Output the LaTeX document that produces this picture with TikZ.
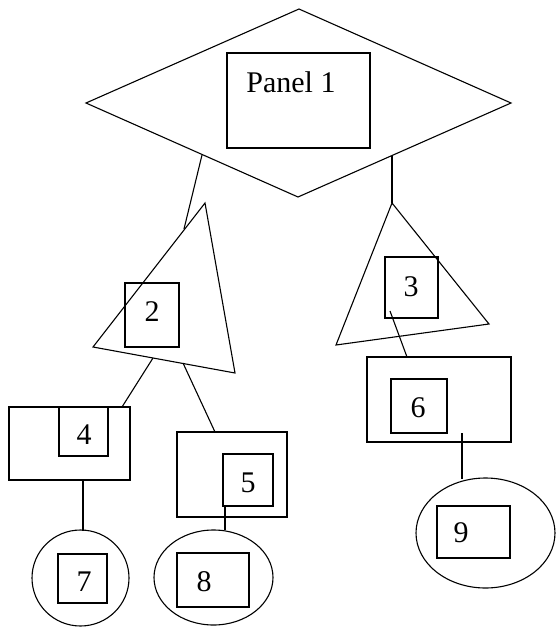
\documentclass[tikz,border=0pt]{standalone}
\usepackage{fontspec}
\setmainfont{Liberation Serif}
\usetikzlibrary{shapes.geometric}
\tikzset{
  shp/.style={draw=black, line width=1.1pt},
  boxnode/.style={shp, rectangle, inner sep=0pt, outer sep=0pt},
  ovalnode/.style={shp, ellipse, inner sep=0pt, outer sep=0pt},
  lbl/.style={inner sep=0pt, font=\fontsize{30}{36}\selectfont},
  conn/.style={draw=black, line width=1.1pt}
}
\begin{document}
\begin{tikzpicture}[x=1pt,y=-1pt]
\useasboundingbox (0,0) rectangle (556,627);
% diamond
\coordinate (dT) at (299,9);
\coordinate (dR) at (511,103);
\coordinate (dB) at (298,197);
\coordinate (dL) at (86,103);
\draw[shp] (dT) -- (dR) -- (dB) -- (dL) -- cycle;
% triangles
\coordinate (t2A) at (205,203);
\coordinate (t2R) at (235,373);
\coordinate (t2L) at (93,347);
\draw[shp] (t2A) -- (t2R) -- (t2L) -- cycle;
\coordinate (t3A) at (392,203);
\coordinate (t3R) at (489,324);
\coordinate (t3L) at (336,345);
\draw[shp] (t3A) -- (t3R) -- (t3L) -- cycle;
% rectangles
\node[boxnode, minimum width=143pt, minimum height=95pt] (panel) at (298.5,100.5) {};
\node[boxnode, minimum width=54pt, minimum height=64pt] (b2) at (152,315) {};
\node[boxnode, minimum width=53pt, minimum height=61pt] (b3) at (411.5,287.5) {};
\node[boxnode, minimum width=121pt, minimum height=73pt] (b4o) at (69.5,443.5) {};
\node[boxnode, minimum width=49pt, minimum height=49pt] (b4i) at (83.5,431.5) {};
\node[boxnode, minimum width=110pt, minimum height=85pt] (b5o) at (232,474.5) {};
\node[boxnode, minimum width=50pt, minimum height=52pt] (b5i) at (248,480) {};
\node[boxnode, minimum width=144pt, minimum height=85pt] (b6o) at (439,399.5) {};
\node[boxnode, minimum width=56pt, minimum height=54pt] (b6i) at (419,406) {};
% ellipses
\node[ovalnode, minimum width=97pt, minimum height=96pt] (c7) at (80.5,578) {};
\node[ovalnode, minimum width=119pt, minimum height=95pt] (c8) at (213.5,577.5) {};
\node[ovalnode, minimum width=139pt, minimum height=110pt] (c9) at (485.5,533) {};
\node[boxnode, minimum width=49pt, minimum height=49pt] (b7) at (82.5,578.5) {};
\node[boxnode, minimum width=72pt, minimum height=54pt] (b8) at (213,580) {};
\node[boxnode, minimum width=73pt, minimum height=52pt] (b9) at (473.5,532) {};
% labels
\node[lbl] (lp) at (291,82) {Panel 1};
\node[lbl] (l2) at (152,312) {2};
\node[lbl] (l3) at (411,287) {3};
\node[lbl] (l4) at (84,435) {4};
\node[lbl] (l5) at (248,483) {5};
\node[lbl] (l6) at (418,408) {6};
\node[lbl] (l7) at (84,582) {7};
\node[lbl] (l8) at (204,582) {8};
\node[lbl] (l9) at (461,533) {9};
% connector end points
\coordinate (k1a) at (202,155);
\coordinate (k1b) at (184,229);
\coordinate (k2a) at (392,156);
\coordinate (k3a) at (153,358);
\coordinate (k3b) at (122,407);
\coordinate (k4a) at (183,363);
\coordinate (k4b) at (215,432);
\coordinate (k5a) at (390,311);
\coordinate (k5b) at (407,357);
\coordinate (k6a) at (83,480);
\coordinate (k6b) at (83,531);
\coordinate (k7a) at (225,506);
\coordinate (k7b) at (225,530);
\coordinate (k8a) at (462,433);
\coordinate (k8b) at (462,479);
% connectors
\draw[conn] (k1a) -- (k1b);
\draw[conn] (k2a) -- (t3A);
\draw[conn] (k3a) -- (k3b);
\draw[conn] (k4a) -- (k4b);
\draw[conn] (k5a) -- (k5b);
\draw[conn] (k6a) -- (k6b);
\draw[conn] (k7a) -- (k7b);
\draw[conn] (k8a) -- (k8b);
\end{tikzpicture}
\end{document}
